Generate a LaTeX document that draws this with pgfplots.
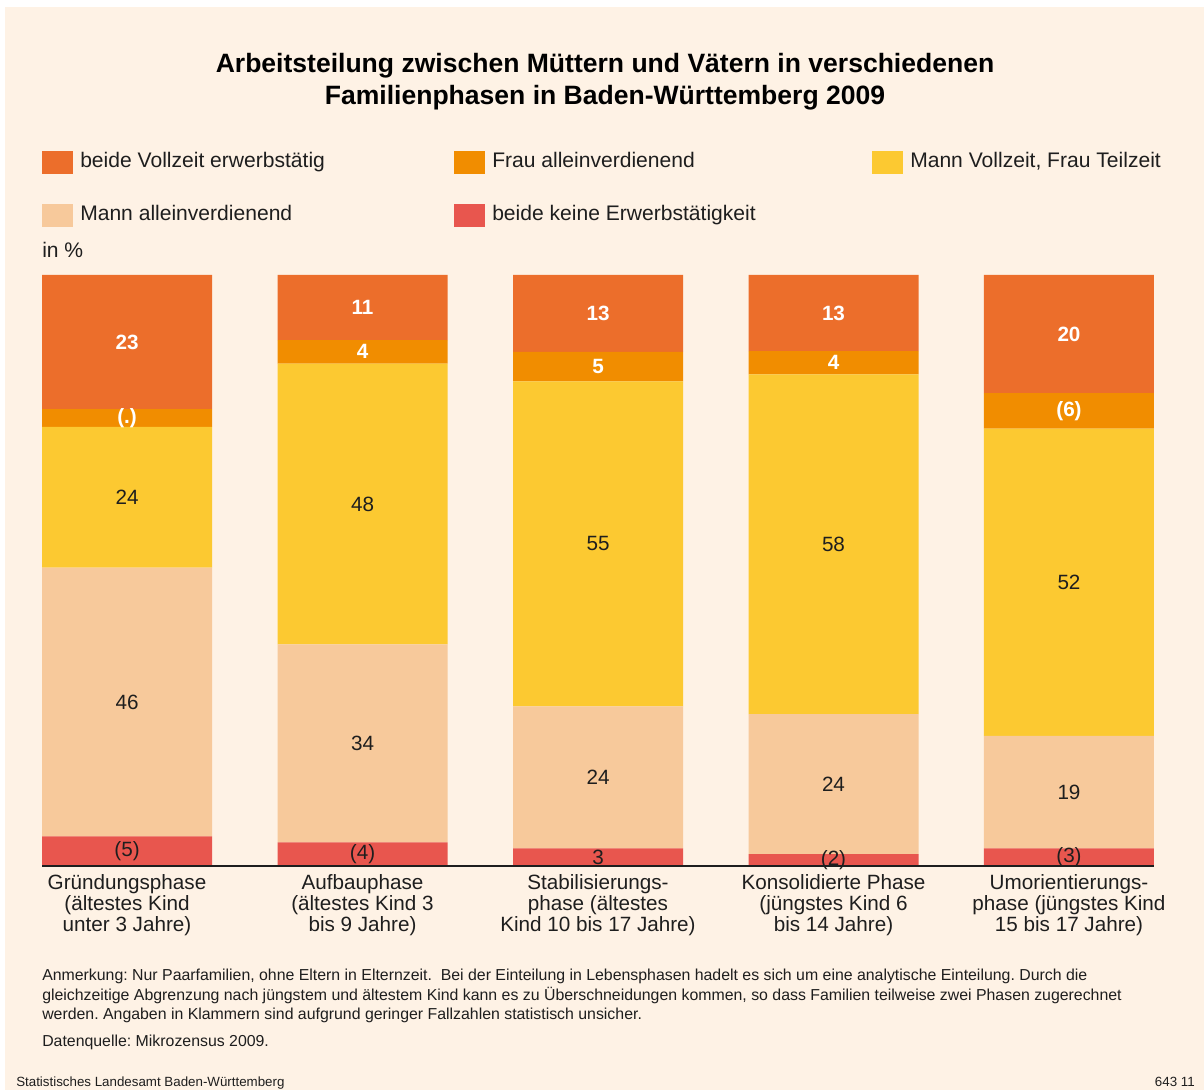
\documentclass[border=0pt]{standalone}
\usepackage{fontspec}
\setmainfont{Liberation Sans}
\usepackage{pgfplots}
\pgfplotsset{compat=1.18}
\definecolor{cDark}{RGB}{236,110,43}
\definecolor{cOrange}{RGB}{241,141,0}
\definecolor{cYellow}{RGB}{252,201,49}
\definecolor{cPeach}{RGB}{247,201,155}
\definecolor{cRed}{RGB}{232,86,78}
\definecolor{cBg}{RGB}{254,242,229}
\definecolor{cText}{RGB}{30,30,30}
\begin{document}
\frenchspacing
\begin{tikzpicture}[x=0.75pt,y=0.75pt]
\useasboundingbox (0,0) rectangle (1204,1090);
\fill[white] (0,0) rectangle (1204,1090);
\fill[cBg] (5,0) rectangle (1204,1083);
% title
\node[anchor=base, inner sep=0pt, font=\fontsize{19.9}{24}\selectfont\bfseries, text=black] at (605,1090-73) {Arbeitsteilung zwischen Müttern und Vätern in verschiedenen};
\node[anchor=base, inner sep=0pt, font=\fontsize{19.9}{24}\selectfont\bfseries, text=black] at (605,1090-105) {Familienphasen in Baden-Württemberg 2009};
% legend
\tikzset{legtext/.style={anchor=base west, inner sep=0pt, font=\fontsize{15.8}{18}\selectfont, text=cText}}
\fill[cDark] (42,1090-174) rectangle (73,1090-151);
\node[legtext] at (80,1090-168) {beide Vollzeit erwerbstätig};
\fill[cOrange] (454,1090-174) rectangle (485,1090-151);
\node[legtext] at (492,1090-168) {Frau alleinverdienend};
\fill[cYellow] (872,1090-174) rectangle (903,1090-151);
\node[legtext] at (910,1090-168) {Mann Vollzeit, Frau Teilzeit};
\fill[cPeach] (42,1090-227) rectangle (73,1090-204);
\node[legtext] at (80,1090-221) {Mann alleinverdienend};
\fill[cRed] (454,1090-227) rectangle (485,1090-204);
\node[legtext] at (492,1090-221) {beide keine Erwerbstätigkeit};
\node[legtext] at (42,1090-258) {in \%};
% notes
\tikzset{notetext/.style={anchor=base west, inner sep=0pt, font=\fontsize{11.9}{14}\selectfont, text=cText}}
\node[notetext] at (42,1090-981) {Anmerkung: Nur Paarfamilien, ohne Eltern in Elternzeit.\ \ Bei der Einteilung in Lebensphasen hadelt es sich um eine analytische Einteilung. Durch die};
\node[notetext] at (42,1090-1000) {gleichzeitige Abgrenzung nach jüngstem und ältestem Kind kann es zu Überschneidungen kommen, so dass Familien teilweise zwei Phasen zugerechnet};
\node[notetext] at (42,1090-1019) {werden. Angaben in Klammern sind aufgrund geringer Fallzahlen statistisch unsicher.};
\node[notetext] at (42,1090-1046) {Datenquelle: Mikrozensus 2009.};
\node[anchor=base west, inner sep=0pt, font=\fontsize{10}{11}\selectfont, text=cText] at (16,1090-1086) {Statistisches Landesamt Baden-Württemberg};
\node[anchor=base east, inner sep=0pt, font=\fontsize{10}{11}\selectfont, text=cText] at (1195,1090-1086) {643 11};
\begin{axis}[
  at={(31.5pt,168pt)}, anchor=south west,
  scale only axis, width=834pt, height=443.25pt,
  ybar stacked, bar width=127.5pt,
  xmin=-0.361, xmax=4.361, ymin=0, ymax=100,
  axis x line=bottom, axis y line=none,
  axis line style={-, line width=1.5pt, draw=cText},
  axis on top,
  xtick={0,1,2,3,4},
  xticklabels={{Gründungsphase\\(ältestes Kind\\unter 3 Jahre)},
               {Aufbauphase\\(ältestes Kind 3\\bis 9 Jahre)},
               {Stabilisierungs-\\phase (ältestes\\Kind 10 bis 17 Jahre)},
               {Konsolidierte Phase\\(jüngstes Kind 6\\bis 14 Jahre)},
               {Umorientierungs-\\phase (jüngstes Kind\\15 bis 17 Jahre)}},
  major tick length=0pt,
  xticklabel style={anchor=north, align=center, inner sep=0pt, yshift=-6.5pt,
                    font=\fontsize{15.5}{15.75}\selectfont, text=cText},
  ytick=\empty,
  clip=false,
]
\addplot[fill=cRed, draw=none] coordinates {(0,5) (1,4) (2,3) (3,2) (4,3)};
\addplot[fill=cPeach, draw=none] coordinates {(0,45.5) (1,33.5) (2,24) (3,23.7) (4,19)};
\addplot[fill=cYellow, draw=none] coordinates {(0,23.8) (1,47.5) (2,55) (3,57.5) (4,52)};
\addplot[fill=cOrange, draw=none] coordinates {(0,3) (1,4) (2,5) (3,3.9) (4,6)};
\addplot[fill=cDark, draw=none] coordinates {(0,22.7) (1,11) (2,13) (3,12.9) (4,20)};
% label anchors (segment midpoints)
\coordinate (a1) at (axis cs:0,2.5);
\coordinate (a2) at (axis cs:0,27.75);
\coordinate (a3) at (axis cs:0,62.4);
\coordinate (a4) at (axis cs:0,75.8);
\coordinate (a5) at (axis cs:0,88.65);
\coordinate (b1) at (axis cs:1,2);
\coordinate (b2) at (axis cs:1,20.75);
\coordinate (b3) at (axis cs:1,61.25);
\coordinate (b4) at (axis cs:1,87);
\coordinate (b5) at (axis cs:1,94.5);
\coordinate (c1) at (axis cs:2,1.5);
\coordinate (c2) at (axis cs:2,15);
\coordinate (c3) at (axis cs:2,54.5);
\coordinate (c4) at (axis cs:2,84.5);
\coordinate (c5) at (axis cs:2,93.5);
\coordinate (d1) at (axis cs:3,1);
\coordinate (d2) at (axis cs:3,13.85);
\coordinate (d3) at (axis cs:3,54.45);
\coordinate (d4) at (axis cs:3,85.15);
\coordinate (d5) at (axis cs:3,93.55);
\coordinate (e1) at (axis cs:4,1.5);
\coordinate (e2) at (axis cs:4,12.5);
\coordinate (e3) at (axis cs:4,48);
\coordinate (e4) at (axis cs:4,77);
\coordinate (e5) at (axis cs:4,90);
\end{axis}
\tikzset{wl/.style={font=\fontsize{15.5}{18}\selectfont\bfseries, text=white, inner sep=0pt},
         bl/.style={font=\fontsize{15.5}{18}\selectfont, text=cText, inner sep=0pt}}
\node[bl] at (a1) {(5)};
\node[bl] at (a2) {46};
\node[bl] at (a3) {24};
\node[wl] at (a4) {(.)};
\node[wl] at (a5) {23};
\node[bl] at (b1) {(4)};
\node[bl] at (b2) {34};
\node[bl] at (b3) {48};
\node[wl] at (b4) {4};
\node[wl] at (b5) {11};
\node[bl] at (c1) {3};
\node[bl] at (c2) {24};
\node[bl] at (c3) {55};
\node[wl] at (c4) {5};
\node[wl] at (c5) {13};
\node[bl] at (d1) {(2)};
\node[bl] at (d2) {24};
\node[bl] at (d3) {58};
\node[wl] at (d4) {4};
\node[wl] at (d5) {13};
\node[bl] at (e1) {(3)};
\node[bl] at (e2) {19};
\node[bl] at (e3) {52};
\node[wl] at (e4) {(6)};
\node[wl] at (e5) {20};
\end{tikzpicture}
\end{document}
